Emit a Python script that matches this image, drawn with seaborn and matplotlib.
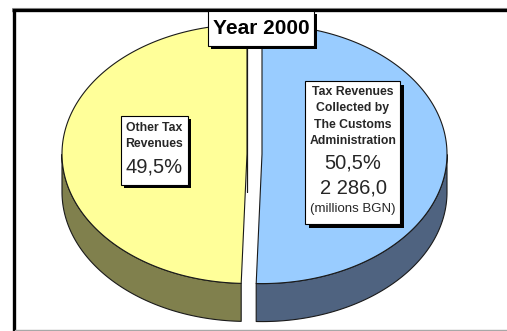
import numpy as np
import matplotlib
matplotlib.use("Agg")
import matplotlib.pyplot as plt
from matplotlib.patches import Polygon, Rectangle
import seaborn as sns

# Revenue split for the year
categories = ["Tax Revenues Collected by The Customs Administration", "Other Tax Revenues"]
shares = [50.5, 49.5]            # percent
customs_value = 2286.0           # millions BGN
top_colors = ["#99CCFF", "#FFFF99"]
side_colors = ["#4F6380", "#80804D"]
title = "Year 2000"

sns.set_theme(style="white")
plt.rcParams["font.family"] = ["Liberation Sans", "DejaVu Sans"]

W, H = 507, 331
fig = plt.figure(figsize=(W / 100, H / 100), dpi=100)
ax = fig.add_axes([0, 0, 1, 1])
ax.set_xlim(0, W)
ax.set_ylim(H, 0)
ax.axis("off")

# outer frame
ax.plot([12, W], [7.5, 7.5], color="#9A9A9A", lw=0.8)
ax.plot([12, W], [10, 10], color="black", lw=2.4, solid_capstyle="butt")
ax.plot([13.5, 13.5], [9, H], color="black", lw=2.4, solid_capstyle="butt")
ax.plot([15, W], [329.5, 329.5], color="#A8A8A8", lw=1.0)

# 3-D pie geometry (pixel units)
cx, cy = 254.5, 154.0
rx, ry = 185.0, 129.5
depth = 38.0
explode = 7.5


def rim(t, ox, oy, dz=0.0):
    return cx + ox + rx * np.cos(t), cy + oy - ry * np.sin(t) + dz


total = sum(shares)
start = np.pi / 2
slices = []
for share in shares:
    sweep = 2 * np.pi * share / total
    a0, a1 = start - sweep, start          # clockwise from the top
    mid = (a0 + a1) / 2
    ox, oy = explode * np.cos(mid), -explode * (ry / rx) * np.sin(mid)
    slices.append((a0, a1, ox, oy))
    start = a0

edge = dict(edgecolor="#1A1A1A", linewidth=0.8, joinstyle="round")

# front walls of each slice
for (a0, a1, ox, oy), sc in zip(slices, side_colors):
    ts = np.linspace(a0, a1, 400)
    front = ts[np.sin(ts) < 0]           # part of the rim facing the viewer
    if front.size:
        x, y = rim(front, ox, oy)
        xb, yb = rim(front[::-1], ox, oy, depth)
        ax.add_patch(Polygon(np.column_stack([np.r_[x, xb], np.r_[y, yb]]),
                             closed=True, facecolor=sc, zorder=2, **edge))

# radial cut face of the left slice at the bottom gap
a0, a1, ox, oy = slices[1]
xr, yr = rim(a0, ox, oy)
face = np.array([[cx + ox, cy + oy], [xr, yr], [xr, yr + depth], [cx + ox, cy + oy + depth]])
ax.add_patch(Polygon(face, closed=True, facecolor=side_colors[1], zorder=1.5, **edge))

# top faces
for (a0, a1, ox, oy), tc in zip(slices, top_colors):
    ts = np.linspace(a0, a1, 400)
    x, y = rim(ts, ox, oy)
    pts = np.column_stack([np.r_[cx + ox, x], np.r_[cy + oy, y]])
    ax.add_patch(Polygon(pts, closed=True, facecolor=tc, zorder=3, **edge))


def shadow_box(x0, y0, x1, y1, off=3.5):
    ax.add_patch(Rectangle((x0 + off, y0 + off), x1 - x0, y1 - y0,
                           facecolor="black", edgecolor="none", zorder=5))
    ax.add_patch(Rectangle((x0, y0), x1 - x0, y1 - y0, facecolor="white",
                           edgecolor="black", linewidth=0.8, zorder=6))


def fmt(v, nd=1):
    s = f"{v:,.{nd}f}"
    return s.replace(",", " ").replace(".", ",")


# title
shadow_box(208, 11, 314, 46, off=3)
ax.text(261, 28.5, title, ha="center", va="center", fontsize=15,
        fontweight="bold", color="black", zorder=7)

# label for the customs slice
shadow_box(305, 81, 400, 224, off=3.5)
bx = 353
for yy, line in zip([92, 108, 124.5, 141], ["Tax Revenues", "Collected by", "The Customs", "Administration"]):
    ax.text(bx, yy, line, ha="center", va="center", fontsize=8.8,
            fontweight="bold", zorder=7)
ax.text(bx, 163, fmt(shares[0]) + "%", ha="center", va="center", fontsize=14.5, zorder=7)
ax.text(bx, 187.5, fmt(customs_value), ha="center", va="center", fontsize=14.5, zorder=7)
ax.text(bx, 209, "(millions BGN)", ha="center", va="center", fontsize=9.5, zorder=7)

# label for the other slice
shadow_box(121, 116, 188, 185, off=3)
lx = 154.5
for yy, line in zip([128, 144], ["Other Tax", "Revenues"]):
    ax.text(lx, yy, line, ha="center", va="center", fontsize=8.8,
            fontweight="bold", zorder=7)
ax.text(lx, 167, fmt(shares[1]) + "%", ha="center", va="center", fontsize=14.5, zorder=7)

fig.savefig("out.png", dpi=100, facecolor="white")
